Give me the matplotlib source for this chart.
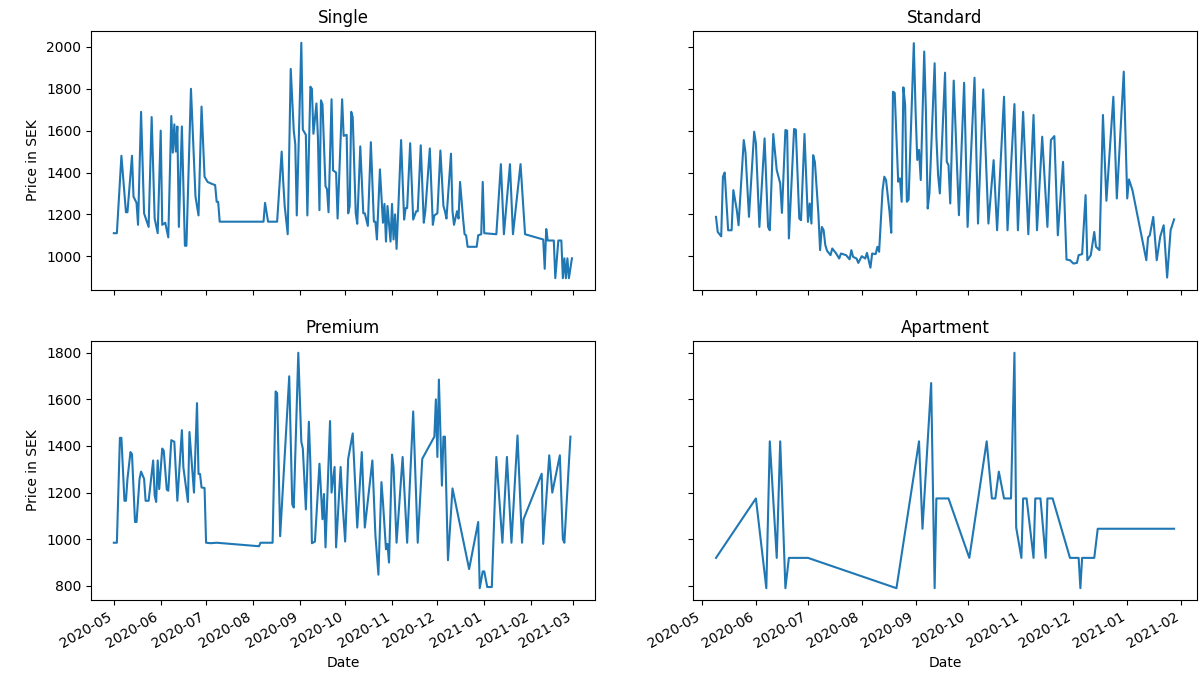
import pandas as pd
import matplotlib
matplotlib.use("Agg")
import matplotlib.pyplot as plt

# Nightly prices per room type; days are counted from 2020-05-01
START = "2020-05-01"

single_day = [0, 2, 5, 8, 9, 12, 13, 15, 16, 18, 20, 23, 25, 27, 29, 31, 32, 34, 36, 38,
              39, 40, 41, 42, 43, 45, 47, 48, 51, 54, 56, 58, 60, 62, 65, 67, 68, 69, 70, 99,
              100, 102, 108, 111, 112, 113, 115, 117, 119, 120, 121, 124, 125, 127, 128, 130, 131, 132, 134, 135,
              136, 137, 138, 140, 141, 142, 144, 145, 147, 148, 151, 152, 154, 155, 156, 157, 158, 160, 161, 163,
              165, 166, 168, 170, 172, 173, 174, 176, 178, 179, 180, 181, 183, 184, 185, 186, 187, 188, 190, 192,
              193, 194, 196, 198, 200, 201, 203, 205, 206, 209, 211, 212, 214, 216, 218, 219, 220, 223, 224, 225,
              227, 228, 229, 231, 232, 233, 234, 240, 241, 243, 244, 245, 253, 256, 258, 262, 264, 269, 272, 284,
              285, 286, 287, 291, 292, 294, 296, 297, 298, 299, 300, 301, 303]
single_price = [1110, 1110, 1480, 1210, 1210, 1480, 1285, 1255, 1150, 1690, 1205, 1140, 1665, 1180, 1110, 1600, 1150, 1160, 1090, 1670,
                1495, 1630, 1500, 1620, 1140, 1620, 1050, 1050, 1800, 1285, 1195, 1715, 1380, 1355, 1345, 1340, 1260, 1260, 1165, 1165,
                1255, 1165, 1165, 1500, 1360, 1240, 1105, 1895, 1600, 1535, 1195, 2020, 1605, 1580, 1195, 1810, 1800, 1585, 1730, 1565,
                1220, 1745, 1725, 1335, 1320, 1210, 1750, 1410, 1400, 1180, 1750, 1575, 1580, 1205, 1240, 1690, 1665, 1205, 1155, 1525,
                1205, 1205, 1145, 1545, 1165, 1165, 1080, 1415, 1160, 1250, 1070, 1240, 1070, 1250, 1080, 1200, 1035, 1200, 1555, 1175,
                1230, 1230, 1540, 1175, 1215, 1215, 1530, 1160, 1215, 1515, 1150, 1195, 1205, 1505, 1240, 1215, 1180, 1490, 1215, 1150,
                1215, 1180, 1355, 1180, 1105, 1100, 1045, 1045, 1100, 1105, 1355, 1110, 1105, 1440, 1105, 1440, 1105, 1440, 1105, 1080,
                940, 1130, 1075, 1075, 895, 1075, 1075, 895, 990, 895, 990, 895, 990]

standard_day = [8, 9, 11, 12, 13, 15, 17, 18, 20, 21, 24, 25, 27, 30, 31, 33, 36, 38, 39, 41,
                43, 45, 46, 48, 49, 50, 53, 54, 56, 57, 59, 61, 62, 63, 64, 65, 67, 68, 69, 70,
                71, 72, 74, 75, 77, 79, 80, 83, 85, 86, 87, 89, 90, 92, 94, 95, 97, 98, 100, 101,
                102, 104, 105, 106, 108, 109, 110, 111, 113, 114, 115, 116, 117, 118, 119, 122, 123, 124, 125, 126,
                128, 129, 130, 131, 134, 135, 136, 137, 140, 141, 142, 143, 145, 148, 151, 153, 157, 159, 162, 165,
                168, 170, 174, 176, 180, 182, 185, 188, 191, 193, 196, 199, 201, 203, 205, 208, 210, 212, 214, 216,
                217, 219, 221, 222, 224, 226, 227, 229, 231, 233, 237, 239, 243, 245, 246, 248, 256, 257, 258, 260,
                262, 264, 266, 268, 270, 272]
standard_price = [1188, 1116, 1095, 1380, 1400, 1124, 1124, 1316, 1220, 1148, 1555, 1495, 1188, 1595, 1540, 1140, 1563, 1140, 1124, 1584,
                  1412, 1348, 1207, 1603, 1600, 1085, 1608, 1605, 1180, 1172, 1584, 1164, 1252, 1156, 1483, 1450, 1204, 1029, 1140, 1125,
                  1053, 1026, 1005, 1037, 1016, 989, 1013, 1005, 985, 1029, 997, 989, 968, 1000, 989, 1016, 945, 1013, 1010, 1045,
                  1021, 1316, 1380, 1364, 1212, 1112, 1786, 1780, 1356, 1372, 1260, 1807, 1723, 1260, 1270, 2018, 1700, 1460, 1508, 1364,
                  1978, 1684, 1228, 1300, 1922, 1571, 1388, 1300, 1877, 1451, 1435, 1252, 1839, 1196, 1829, 1140, 1853, 1156, 1797, 1156,
                  1459, 1124, 1762, 1124, 1727, 1124, 1690, 1105, 1675, 1124, 1571, 1140, 1555, 1574, 1100, 1451, 984, 981, 965, 968,
                  1005, 1010, 1292, 981, 1005, 1116, 1045, 1029, 1675, 1265, 1762, 1276, 1882, 1276, 1367, 1316, 981, 1090, 1100, 1188,
                  981, 1093, 1148, 898, 1124, 1176]

premium_day = [0, 2, 4, 5, 7, 8, 9, 11, 12, 14, 15, 17, 18, 20, 21, 23, 26, 27, 28, 29,
               30, 32, 33, 35, 36, 38, 40, 42, 45, 46, 49, 50, 53, 55, 56, 57, 58, 60, 61, 64,
               68, 96, 97, 105, 107, 108, 110, 116, 118, 119, 122, 124, 125, 127, 129, 130, 131, 133, 136, 138,
               139, 140, 143, 144, 146, 147, 150, 151, 153, 155, 158, 161, 164, 166, 171, 173, 175, 177, 178, 180,
               181, 182, 184, 185, 187, 191, 194, 198, 201, 204, 212, 213, 214, 215, 217, 218, 219, 221, 224, 235,
               241, 242, 244, 245, 247, 250, 253, 257, 260, 263, 267, 270, 271, 283, 284, 288, 290, 295, 297, 298,
               302]
premium_price = [985, 985, 1435, 1435, 1165, 1165, 1259, 1374, 1365, 1074, 1074, 1259, 1290, 1259, 1165, 1165, 1338, 1188, 1160, 1338,
                 1215, 1389, 1380, 1213, 1208, 1425, 1418, 1165, 1468, 1308, 1160, 1460, 1200, 1584, 1280, 1280, 1222, 1220, 985, 983,
                 985, 970, 985, 985, 1634, 1627, 1013, 1699, 1150, 1136, 1800, 1418, 1389, 1128, 1504, 1324, 983, 990, 1324, 1086,
                 1194, 965, 1507, 1200, 1310, 965, 1310, 1180, 990, 1345, 1454, 1050, 1374, 1050, 1338, 1018, 848, 1245, 1160, 957,
                 980, 900, 1363, 1310, 985, 1353, 985, 1548, 985, 1345, 1440, 1600, 1353, 1685, 1230, 1440, 1440, 910, 1218, 872,
                 1074, 790, 862, 862, 795, 795, 1353, 985, 1353, 985, 1445, 985, 1086, 1281, 980, 1360, 1200, 1360, 1000, 985,
                 1440]

apartment_day = [8, 31, 37, 39, 43, 45, 48, 50, 61, 112, 125, 127, 132, 134, 135, 142, 154, 164, 167, 169,
                 171, 174, 178, 180, 181, 184, 185, 187, 191, 192, 195, 198, 199, 202, 212, 217, 218, 219, 226, 228,
                 272]
apartment_price = [920, 1175, 790, 1420, 920, 1420, 790, 920, 920, 790, 1420, 1045, 1670, 790, 1175, 1175, 920, 1420, 1175, 1175,
                   1290, 1175, 1175, 1800, 1050, 920, 1175, 1175, 920, 1175, 1175, 920, 1175, 1175, 920, 920, 790, 920, 920, 1045,
                   1045]

room_types = ["Single", "Standard", "Premium", "Apartment"]
series = {
    "Single": (single_day, single_price),
    "Standard": (standard_day, standard_price),
    "Premium": (premium_day, premium_price),
    "Apartment": (apartment_day, apartment_price),
}


def to_dates(days):
    return pd.Timestamp(START) + pd.to_timedelta(days, unit="D")


fig, axes = plt.subplots(2, 2, figsize=(12.03, 6.81), dpi=100, sharex="col", sharey="row")

for ax, name in zip(axes.flat, room_types):
    days, price = series[name]
    ax.plot(to_dates(days), price)
    ax.set_title(name)

for ax in axes[:, 0]:
    ax.set_ylabel("Price in SEK")
for ax in axes[1, :]:
    ax.set_xlabel("Date")

fig.autofmt_xdate()
fig.subplots_adjust(left=0.0756, right=0.995, top=0.9545, bottom=0.119,
                    wspace=0.195, hspace=0.197)
fig.savefig("out.png", dpi=100)
